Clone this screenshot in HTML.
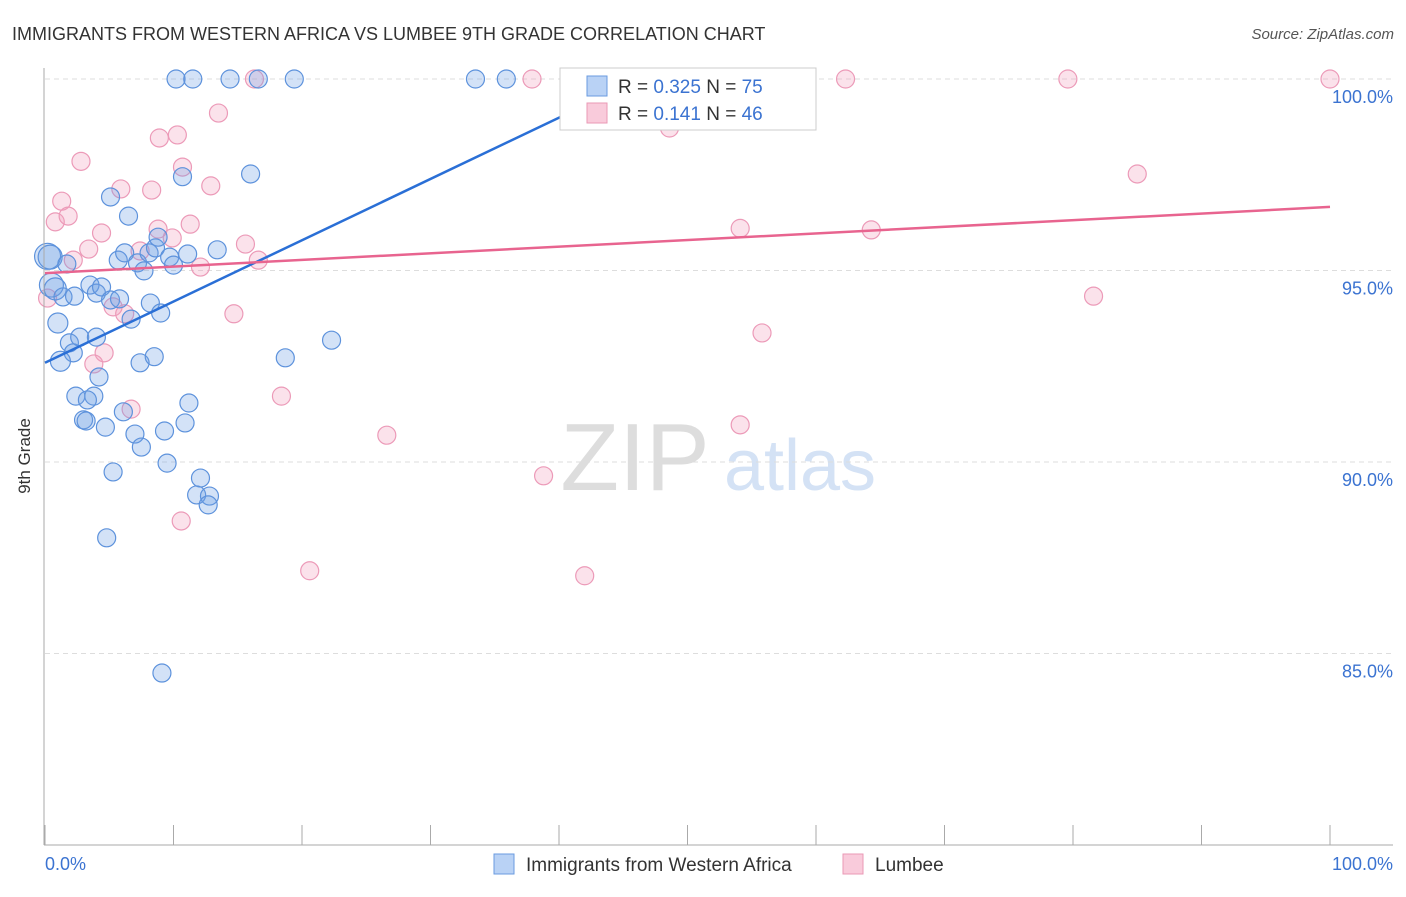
<!DOCTYPE html>
<html><head><meta charset="utf-8"><style>
body{margin:0;background:#fff;font-family:"Liberation Sans",sans-serif}
svg text{font-family:"Liberation Sans",sans-serif}
</style></head><body>
<svg width="1406" height="892" id="c">
<text x="12" y="40" font-size="18" fill="#333">IMMIGRANTS FROM WESTERN AFRICA VS LUMBEE 9TH GRADE CORRELATION CHART</text>
<text x="1394" y="39" font-size="15" fill="#555" text-anchor="end" font-style="italic">Source: ZipAtlas.com</text>
<text x="30" y="456" font-size="17" fill="#333" transform="rotate(-90 30 456)" text-anchor="middle">9th Grade</text>
<text x="635" y="490" font-size="96" fill="#ddd" text-anchor="middle" font-family="Liberation Serif">ZIP</text>
<text x="800" y="490" font-size="72" fill="#d4e2f5" text-anchor="middle">atlas</text>
<g id="grid"></g><g id="pts"></g><g id="lines"></g>
<line x1="44" y1="68" x2="44" y2="845" stroke="#aaa"/>
<line x1="44" y1="845" x2="1393" y2="845" stroke="#aaa"/>
<text x="45" y="870" font-size="18" fill="#3b73d1">0.0%</text>
<text x="1393" y="870" font-size="18" fill="#3b73d1" text-anchor="end">100.0%</text>
<g>
<rect x="560" y="68" width="256" height="62" fill="#fff" stroke="#ccc"/>
<rect x="587" y="76" width="20" height="20" fill="#b9d2f5" stroke="#6a9be0"/>
<rect x="587" y="103" width="20" height="20" fill="#f9cbdb" stroke="#ea98b6"/>
<text x="618" y="93" font-size="19" fill="#333">R = <tspan fill="#3b73d1">0.325</tspan>   N = <tspan fill="#3b73d1">75</tspan></text>
<text x="618" y="120" font-size="19" fill="#333">R =  <tspan fill="#3b73d1">0.141</tspan>   N = <tspan fill="#3b73d1">46</tspan></text>
</g>
<g><rect x="494" y="854" width="20" height="20" fill="#b9d2f5" stroke="#6a9be0"/><text x="526" y="871" font-size="19" fill="#333">Immigrants from Western Africa</text></g>
<g><rect x="843" y="854" width="20" height="20" fill="#f9cbdb" stroke="#ea98b6"/><text x="875" y="871" font-size="19" fill="#333">Lumbee</text></g>
</svg>
<script>
const yTicks=[100,95,90,85];
const xTickCount=[0,10,20,30,40,50,60,70,80,90,100];
const blueX=[10.2,11.5,14.4,16.6,19.4,33.5,35.9,5.1,6.5,10.7,16.0,0.2,0.4,1.7,5.7,6.2,7.2,7.7,8.1,8.6,8.8,9.7,10.0,11.1,13.4,0.5,0.8,1.4,2.3,3.5,4.0,4.4,5.1,5.8,6.7,8.2,9.0,1.0,1.9,2.2,2.7,4.0,1.2,4.2,7.4,8.5,18.7,22.3,2.4,3.0,3.2,3.8,3.3,4.7,6.1,7.0,7.5,9.3,10.9,11.2,9.5,5.3,12.1,11.8,12.8,12.7,4.8,9.1];
const blueY=[100,100,100,100,100,100,100,96.92,96.42,97.45,97.52,95.37,95.35,95.17,95.27,95.46,95.2,94.99,95.46,95.59,95.87,95.35,95.14,95.43,95.54,94.62,94.52,94.31,94.33,94.62,94.41,94.57,94.23,94.26,93.73,94.15,93.89,93.63,93.11,92.85,93.26,93.26,92.63,92.22,92.59,92.75,92.72,93.18,91.72,91.1,91.07,91.72,91.62,90.91,91.31,90.73,90.39,90.81,91.02,91.54,89.97,89.74,89.58,89.14,89.11,88.88,88.02,84.49];
const blueR=[9,9,9,9,9,9,9,9,9,9,9,13,12,9,9,9,9,9,9,9,9,9,9,9,9,12,11,9,9,9,9,9,9,9,9,9,9,10,9,9,9,9,10,9,9,9,9,9,9,9,9,9,9,9,9,9,9,9,9,9,9,9,9,9,9,9,9,9];
const pinkX=[16.3,37.9,62.3,79.6,100,48.6,13.5,8.9,10.3,2.8,10.7,5.9,8.3,12.9,1.3,0.8,1.8,85.0,54.1,64.3,4.4,8.8,9.9,11.3,3.4,2.2,7.4,15.6,16.6,12.1,0.2,5.3,81.6,6.2,14.7,55.8,4.6,3.8,6.7,18.4,26.6,54.1,38.8,10.6,20.6,42.0];
const pinkY=[100,100,100,100,100,98.72,99.11,98.46,98.54,97.85,97.7,97.13,97.1,97.21,96.81,96.27,96.42,97.52,96.1,96.06,95.98,96.08,95.85,96.21,95.56,95.27,95.51,95.69,95.27,95.09,94.28,94.05,94.33,93.87,93.87,93.37,92.85,92.56,91.38,91.72,90.7,90.97,89.64,88.46,87.16,87.03];
const blueFit=[92.59,0.16];
const pinkFit=[94.93,0.0173];
const X=v=>45+v*12.85, Y=v=>79+(100-v)*38.3;
const NS='http://www.w3.org/2000/svg';
function mk(t,a,p){const e=document.createElementNS(NS,t);for(const k in a)e.setAttribute(k,a[k]);p.appendChild(e);return e;}
const g=document.getElementById('grid');
yTicks.forEach(t=>{
 const l=mk('line',{x1:45,x2:1393,y1:Y(t),y2:Y(t),stroke:'#ddd','stroke-dasharray':'5 4'},g);
 
 
 const tx=mk('text',{x:1393,y:Y(t)+24,'font-size':18,fill:'#3b73d1','text-anchor':'end'},g);
 tx.textContent=t.toFixed(1)+'%';
 
 
});
xTickCount.forEach(t=>{
 const l=mk('line',{x1:X(t),x2:X(t),y1:825,y2:845,stroke:'#aaa'},g);
 
 
});
const p=document.getElementById('pts');
pinkX.forEach((x,i)=>{
 const c=mk('circle',{cx:X(x),cy:Y(pinkY[i]),r:9,fill:'rgba(243,160,190,0.3)',stroke:'#ec9ab8','stroke-width':1.2},p);
 
 
});
blueX.forEach((x,i)=>{
 const c=mk('circle',{cx:X(x),cy:Y(blueY[i]),r:blueR[i],fill:'rgba(110,160,230,0.3)',stroke:'#5d92dc','stroke-width':1.2},p);
 
 
});
const L=document.getElementById('lines');
const bEnd=(100-blueFit[0])/blueFit[1];
const bl=mk('line',{x1:X(0),y1:Y(blueFit[0]),x2:X(bEnd),y2:Y(100),stroke:'#2a6fd6','stroke-width':2.5},L);


const pl=mk('line',{x1:X(0),y1:Y(pinkFit[0]),x2:X(100),y2:Y(pinkFit[0]+100*pinkFit[1]),stroke:'#e8648f','stroke-width':2.5},L);


</script>
</body></html>
